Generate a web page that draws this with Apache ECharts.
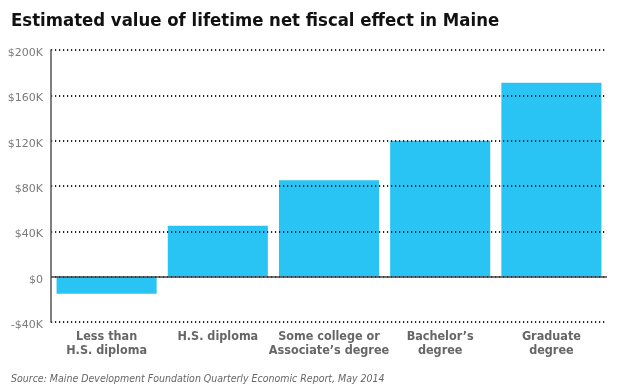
<!DOCTYPE html>
<html><head><meta charset="utf-8">
<script src="https://cdn.jsdelivr.net/npm/echarts@6/dist/echarts.min.js"></script>
<style>html,body{margin:0;padding:0;background:#fff}#c{width:624px;height:390px}</style>
</head><body><div id="c"></div>
<script>
const categories = ['Less than\nH.S. diploma', 'H.S. diploma', 'Some college or\nAssociate\u2019s degree', 'Bachelor\u2019s\ndegree', 'Graduate\ndegree'];
const values = [-15000, 45000, 85000, 120000, 171000];
const yMin = -40000, yMax = 200000, yStep = 40000;
const titleText = 'Estimated value of lifetime net fiscal effect in Maine';
const sourceText = 'Source: Maine Development Foundation Quarterly Economic Report, May 2014';

const chart = echarts.init(document.getElementById('c'), null, {renderer: 'canvas'});
chart.setOption({
  animation: false,
  title: [
    {text: titleText, left: 6, top: 7,
     textStyle: {fontFamily: 'DejaVu Sans Condensed, DejaVu Sans', fontWeight: 'bold', fontSize: 18.4, color: '#111'}},
    {text: sourceText, left: 6, top: 369,
     textStyle: {fontFamily: 'DejaVu Sans Condensed, DejaVu Sans', fontStyle: 'italic', fontWeight: 'normal', fontSize: 10.5, color: '#666'}}
  ],
  grid: {left: 51, right: 17, top: 50, bottom: 68},
  xAxis: {
    type: 'category', data: categories,
    axisLine: {show: false, onZero: false},
    axisTick: {show: false},
    axisLabel: {interval: 0, fontFamily: 'DejaVu Sans Condensed, DejaVu Sans', fontWeight: 'bold', fontSize: 12.5, color: '#666', lineHeight: 14, margin: 8}
  },
  yAxis: {
    type: 'value', min: yMin, max: yMax, interval: yStep, z: 5,
    axisLine: {show: true, lineStyle: {color: '#555', width: 1.5}},
    axisTick: {show: false},
    splitLine: {show: true, lineStyle: {color: '#222', width: 2, type: [1.2, 2.8]}},
    axisLabel: {fontFamily: 'DejaVu Sans', fontSize: 11, color: '#7a7a7a', margin: 8, verticalAlign: 'top', lineHeight: 12, padding: [-3, 0, 0, 0],
      formatter: v => (v < 0 ? '-$' : '$') + Math.abs(v / 1000) + (v === 0 ? '' : 'K')}
  },
  series: [{
    type: 'bar', data: values, barCategoryGap: '10%',
    itemStyle: {color: '#29C4F3'},
    markLine: {silent: true, symbol: 'none', label: {show: false},
      lineStyle: {color: '#444', width: 1.5, type: 'solid'}, data: [{yAxis: 0}]}
  }]
});
</script></body></html>
